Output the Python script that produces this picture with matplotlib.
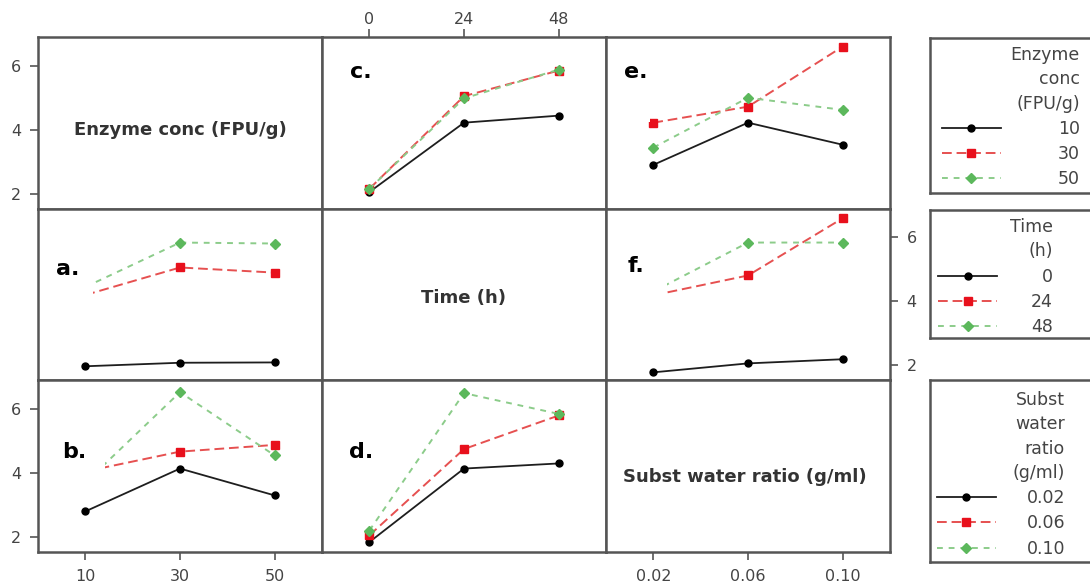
import matplotlib.pyplot as plt
from matplotlib.patches import Rectangle

W, H = 1090, 583

enzyme_levels = ["10", "30", "50"]
time_levels = ["0", "24", "48"]
ratio_levels = ["0.02", "0.06", "0.10"]

# a. x = enzyme conc, one line per time level
a_time0 = [1.97, 2.08, 2.09]
a_time24 = [4.20, 5.06, 4.90]
a_time48 = [4.45, 5.84, 5.81]

# b. x = enzyme conc, one line per subst water ratio
b_r002 = [2.80, 4.14, 3.30]
b_r006 = [4.05, 4.67, 4.88]
b_r010 = [3.70, 6.53, 4.55]

# c. x = time, one line per enzyme conc
c_e10 = [2.05, 4.22, 4.44]
c_e30 = [2.15, 5.05, 5.85]
c_e50 = [2.15, 4.98, 5.88]

# d. x = time, one line per subst water ratio
d_r002 = [1.84, 4.14, 4.30]
d_r006 = [2.05, 4.75, 5.80]
d_r010 = [2.20, 6.50, 5.85]

# e. x = subst water ratio, one line per enzyme conc
e_e10 = [2.90, 4.22, 3.53]
e_e30 = [4.22, 4.72, 6.60]
e_e50 = [3.44, 5.00, 4.62]

# f. x = subst water ratio, one line per time level
f_time0 = [1.78, 2.06, 2.19]
f_time24 = [4.19, 4.81, 6.60]
f_time48 = [4.31, 5.84, 5.84]

styles = [
    dict(color="#1e1e1e", ls="-", lw=1.3, marker="o", ms=5, mfc="#000000", mec="#000000"),
    dict(color="#e65050", ls=(0, (5, 2.5)), lw=1.4, marker="s", ms=6, mfc="#e8101c", mec="#e8101c"),
    dict(color="#8ccc8a", ls=(0, (3, 3)), lw=1.4, marker="D", ms=5, mfc="#5cb85c", mec="#5cb85c"),
]

edge = "#555555"
txt = "#444444"

fig, axes = plt.subplots(3, 3, figsize=(W / 100, H / 100), dpi=100)
fig.subplots_adjust(left=38 / W, right=890 / W, top=1 - 37 / H, bottom=1 - 552 / H,
                    wspace=0, hspace=0)

col_levels = [enzyme_levels, time_levels, ratio_levels]
for i in range(3):
    for j in range(3):
        ax = axes[i, j]
        ax.set_xlim(-0.5, 2.5)
        ax.set_ylim(1.53, 6.9)
        ax.set_xticks(range(3), col_levels[j])
        ax.set_yticks([2, 4, 6])
        ax.tick_params(bottom=False, left=False, top=False, right=False,
                       labelbottom=False, labelleft=False, labeltop=False, labelright=False,
                       direction="out", length=6, width=1.2, color=edge,
                       labelsize=11.5, labelcolor=txt, pad=6)
        for s in ax.spines.values():
            s.set_color(edge)
            s.set_linewidth(1.8)
            s.set_zorder(8)

panels = {
    (1, 0): ("a.", [a_time0, a_time24, a_time48]),
    (2, 0): ("b.", [b_r002, b_r006, b_r010]),
    (0, 1): ("c.", [c_e10, c_e30, c_e50]),
    (2, 1): ("d.", [d_r002, d_r006, d_r010]),
    (0, 2): ("e.", [e_e10, e_e30, e_e50]),
    (1, 2): ("f.", [f_time0, f_time24, f_time48]),
}
# white label patches (axes fraction: x0, y0, w, h) and label centre
label_boxes = {
    "a.": ((0.025, 0.42, 0.17, 0.38), (0.106, 0.65)),
    "b.": ((0.025, 0.30, 0.21, 0.41), (0.127, 0.58)),
    "c.": ((0.028, 0.52, 0.22, 0.42), (0.137, 0.796)),
    "d.": ((0.028, 0.36, 0.22, 0.35), (0.137, 0.58)),
    "e.": ((0.004, 0.505, 0.152, 0.43), (0.106, 0.796)),
    "f.": ((0.004, 0.36, 0.21, 0.425), (0.106, 0.668)),
}

for (i, j), (name, series) in panels.items():
    ax = axes[i, j]
    for vals, st in zip(series, styles):
        ax.plot(range(3), vals, zorder=2, **st)
    (x0, y0, bw, bh), (tx, ty) = label_boxes[name]
    ax.add_patch(Rectangle((x0, y0), bw, bh, transform=ax.transAxes,
                           facecolor="white", edgecolor="none", zorder=5))
    ax.text(tx, ty, name, transform=ax.transAxes, ha="center", va="center",
            fontsize=16, fontweight="bold", color="black", zorder=6)

axes[0, 0].text(0.5, 0.458, "Enzyme conc (FPU/g)", transform=axes[0, 0].transAxes,
                ha="center", va="center", fontsize=13, fontweight="bold", color="#333333")
axes[1, 1].text(0.497, 0.48, "Time (h)", transform=axes[1, 1].transAxes,
                ha="center", va="center", fontsize=13, fontweight="bold", color="#333333")
axes[2, 2].text(0.49, 0.435, "Subst water ratio (g/ml)", transform=axes[2, 2].transAxes,
                ha="center", va="center", fontsize=13, fontweight="bold", color="#333333")

# tick placement like the original interaction matrix
axes[0, 0].tick_params(left=True, labelleft=True)
axes[2, 0].tick_params(left=True, labelleft=True, bottom=True, labelbottom=True)
axes[0, 1].tick_params(top=True, labeltop=True, pad=1)
axes[1, 2].tick_params(right=True, labelright=True)
axes[2, 2].tick_params(bottom=True, labelbottom=True)


def legend_box(top_px, bottom_px, handles, labels, title, right_px, text_top_px, textpad):
    lax = fig.add_axes([930 / W, 1 - bottom_px / H, 200 / W, (bottom_px - top_px) / H])
    lax.set_xticks([])
    lax.set_yticks([])
    for s in lax.spines.values():
        s.set_color(edge)
        s.set_linewidth(1.8)
    leg = lax.legend(handles, labels, title=title, loc="upper right",
                     bbox_to_anchor=(right_px / W, 1 - text_top_px / H),
                     bbox_transform=fig.transFigure, frameon=False, alignment="right",
                     fontsize=12.5, title_fontsize=12.5, handlelength=3.4,
                     handletextpad=textpad, labelspacing=0.42, borderpad=0,
                     borderaxespad=0, numpoints=1)
    leg.get_title().set_multialignment("right")
    leg.get_title().set_linespacing(1.45)
    leg.get_title().set_color(txt)
    for t in leg.get_texts():
        t.set_color(txt)


legend_box(38, 193, axes[0, 1].get_lines(), enzyme_levels,
           "Enzyme\nconc\n(FPU/g)", 1080, 46, 3.3)
legend_box(210, 338, axes[1, 0].get_lines(), ["\u2007" + t if len(t) == 1 else t for t in time_levels],
           "Time\n(h)", 1053, 218, 1.95)
legend_box(380, 562, axes[2, 0].get_lines(), ratio_levels,
           "Subst\nwater\nratio\n(g/ml)", 1065, 391, 1.75)

fig.savefig("out.png", dpi=100)
